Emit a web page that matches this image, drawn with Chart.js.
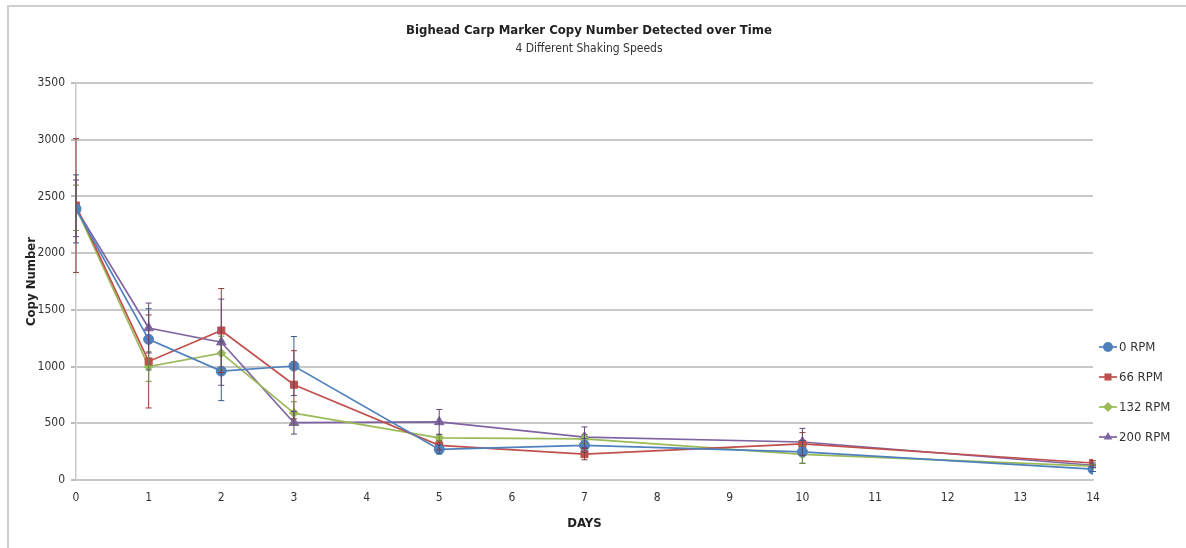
<!DOCTYPE html>
<html>
<head>
<meta charset="utf-8">
<script src="https://cdn.jsdelivr.net/npm/chart.js@4"></script>
<style>
  html, body { margin: 0; padding: 0; background: #fff; overflow: hidden; }
  #wrap { position: relative; width: 1186px; height: 548px; overflow: hidden; }
  #frame { position: absolute; left: 7px; top: 5px; width: 1200px; height: 560px;
           border-top: 2px solid #cfcfcf; border-left: 2px solid #cfcfcf; }
  canvas { position: absolute; left: 0; top: 0; }
</style>
</head>
<body>
<div id="wrap">
  <div id="frame"></div>
  <canvas id="chart" width="1186" height="548"></canvas>
</div>
<script>
// data
const days = [0, 1, 2, 3, 5, 7, 10, 14];
const seriesNames = ['0 RPM', '66 RPM', '132 RPM', '200 RPM'];
const rpm0   = [2390, 1240, 960, 1005, 270, 305, 248, 95];
const rpm66  = [2420, 1045, 1318, 840, 305, 228, 318, 150];
const rpm132 = [2400, 1000, 1118, 590, 372, 362, 226, 122];
const rpm200 = [2395, 1340, 1215, 505, 512, 378, 335, 130];
// error bar half widths
const err0   = [300, 270, 260, 260, 40, 60, 100, 20];
const err66  = [590, 410, 370, 300, 40, 50, 100, 20];
const err132 = [200, 130, 150, 100, 30, 40, 80, 15];
const err200 = [250, 220, 380, 100, 110, 90, 120, 20];
const xTicks = [0, 1, 2, 3, 4, 5, 6, 7, 8, 9, 10, 11, 12, 13, 14];
const yTicks = [0, 500, 1000, 1500, 2000, 2500, 3000, 3500];

const FONT = '"Liberation Sans Narrow", "DejaVu Sans Condensed", "Open Sans", sans-serif';
const colors = ['#4F81BD', '#C0504D', '#9BBB59', '#8064A2'];
const barColors = ['#3a5f8c', '#8e3b39', '#73893f', '#5e4a78'];
const markers = ['circle', 'rect', 'rectRot', 'triangle'];
const markerSize = [5, 5, 4.5, 5.5];
const values = [rpm0, rpm66, rpm132, rpm200];
const errors = [err0, err66, err132, err200];

const datasets = values.map((vals, i) => ({
    label: seriesNames[i],
    data: vals.map((v, j) => ({ x: days[j], y: v })),
    errs: errors[i],
    borderColor: colors[i],
    backgroundColor: colors[i],
    borderWidth: 1.7,
    pointStyle: markers[i],
    pointRadius: markerSize[i],
    pointBorderWidth: 1,
    pointBorderColor: colors[i],
    tension: 0
}));

const errorBars = {
    id: 'errorBars',
    afterDatasetsDraw(chart) {
        const { ctx, scales: { x, y } } = chart;
        ctx.save();
        ctx.lineWidth = 1;
        chart.data.datasets.forEach((ds, i) => {
            ctx.strokeStyle = barColors[i];
            ds.data.forEach((p, j) => {
                const e = ds.errs[j];
                const px = x.getPixelForValue(p.x);
                const top = y.getPixelForValue(p.y + e);
                const bot = y.getPixelForValue(p.y - e);
                ctx.beginPath();
                ctx.moveTo(px, top); ctx.lineTo(px, bot);
                ctx.moveTo(px - 3, top); ctx.lineTo(px + 3, top);
                ctx.moveTo(px - 3, bot); ctx.lineTo(px + 3, bot);
                ctx.stroke();
            });
        });
        ctx.restore();
    }
};

// legend on the right, line + marker like the spreadsheet one
const sideLegend = {
    id: 'sideLegend',
    afterDraw(chart) {
        const { ctx, chartArea } = chart;
        const x0 = chartArea.right + 6;
        const y0 = 347;
        ctx.save();
        chart.data.datasets.forEach((ds, i) => {
            const y = y0 + i * 30;
            ctx.strokeStyle = colors[i];
            ctx.lineWidth = 1.7;
            ctx.beginPath(); ctx.moveTo(x0, y); ctx.lineTo(x0 + 18, y); ctx.stroke();
            ctx.fillStyle = colors[i];
            Chart.helpers.drawPoint(ctx, { pointStyle: markers[i], radius: 5, borderWidth: 0 }, x0 + 9, y);
            ctx.fillStyle = '#333';
            ctx.font = '13px ' + FONT;
            ctx.textBaseline = 'middle';
            ctx.fillText(ds.label, x0 + 20, y + 1);
        });
        ctx.restore();
    }
};

new Chart(document.getElementById('chart'), {
    type: 'line',
    data: { datasets },
    options: {
        responsive: false,
        animation: false,
        layout: { padding: { left: 24, right: 32, top: 6, bottom: 13 } },
        plugins: {
            title: {
                display: true,
                text: 'Bighead Carp Marker Copy Number Detected over Time',
                color: '#222',
                font: { family: FONT, size: 13, weight: 'bold' },
                padding: { top: 17, bottom: 3 }
            },
            subtitle: {
                display: true,
                text: '4 Different Shaking Speeds',
                color: '#333',
                font: { family: FONT, size: 12 },
                padding: { bottom: 27 }
            },
            legend: { display: false },
            tooltip: { enabled: false }
        },
        scales: {
            x: {
                type: 'linear',
                min: 0, max: 14,
                afterBuildTicks(scale) { scale.ticks = xTicks.map(v => ({ value: v })); },
                grid: { display: false, drawTicks: true, tickLength: 5, tickColor: '#bbb' },
                border: { color: '#c8c8c8', width: 1.5 },
                ticks: { color: '#333', font: { family: FONT, size: 12 }, padding: 6 },
                title: {
                    display: true, text: 'DAYS', color: '#222',
                    font: { family: FONT, size: 13, weight: 'bold' }, padding: { top: 4 }
                }
            },
            y: {
                min: 0, max: 3500,
                afterBuildTicks(scale) { scale.ticks = yTicks.map(v => ({ value: v })); },
                afterFit(scale) { scale.width = 52; },
                grid: { color: '#c8c8c8', lineWidth: 2, tickLength: 5, tickColor: '#bbb' },
                border: { color: '#c8c8c8', width: 1.5 },
                ticks: {
                    color: '#333', font: { family: FONT, size: 12 }, padding: 6,
                    callback: (v) => String(v)
                },
                title: {
                    display: true, text: 'Copy Number', color: '#222',
                    font: { family: FONT, size: 13, weight: 'bold' }, padding: { top: 0, bottom: 1 }
                }
            },
            // empty axis on the right, only keeps room for the legend
            side: {
                type: 'linear',
                position: 'right',
                afterFit(scale) { scale.width = 61; },
                grid: { display: false },
                border: { display: false },
                ticks: { display: false }
            }
        }
    },
    plugins: [errorBars, sideLegend]
});
</script>
</body>
</html>
